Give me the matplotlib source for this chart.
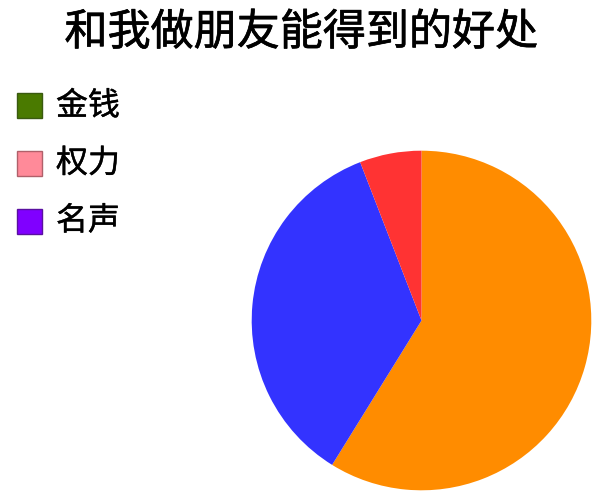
import matplotlib
matplotlib.use("Agg")
import matplotlib.pyplot as plt
import matplotlib.patheffects as pe
from matplotlib.patches import Rectangle

plt.rcParams['font.family'] = ['Noto Sans CJK SC', 'DejaVu Sans']

title = "和我做朋友能得到的好处"
# pie slices, clockwise from the top
slice_values = [10, 6, 1]
slice_colors = ["#FF8C00", "#3333FF", "#FF3333"]
# legend entries (they do not match the slices, on purpose)
legend_labels = ["金钱", "权力", "名声"]
legend_colors = ["#4A7A00", "#FF8A99", "#8000FF"]
legend_edges = ["#3A5A10", "#B0606A", "#5A10A0"]

W, H = 608, 498
fig = plt.figure(figsize=(W / 100, H / 100), dpi=100)

# pie: centre (421.5, 320.5) px from top-left, radius 171.5 px
cx, cy, r = 421.5, 320.5, 171.5
ax = fig.add_axes([(cx - r) / W, (H - cy - r) / H, 2 * r / W, 2 * r / H])
ax.pie(slice_values, colors=slice_colors, startangle=90, counterclock=False,
       radius=1, wedgeprops=dict(linewidth=0))
ax.set_xlim(-1.01, 1.01)
ax.set_ylim(-1.01, 1.01)
ax.set_aspect("equal")
ax.axis("off")

# a thin stroke makes the regular weight look like the medium one
fig.text(301 / W, 1 - 33 / H, title, ha="center", va="center", fontsize=31,
         path_effects=[pe.withStroke(linewidth=0.5, foreground="black")])

for i, (lab, col, ec) in enumerate(zip(legend_labels, legend_colors, legend_edges)):
    yc = 106 + i * 57.5
    fig.patches.append(Rectangle((17 / W, 1 - (yc + 12.5) / H), 25 / W, 25 / H,
                                 transform=fig.transFigure, facecolor=col,
                                 edgecolor=ec, linewidth=1))
    fig.text(56 / W, 1 - yc / H, lab, ha="left", va="center", fontsize=23,
             path_effects=[pe.withStroke(linewidth=0.3, foreground="black")])

fig.savefig("out.png", dpi=100, facecolor="white")
